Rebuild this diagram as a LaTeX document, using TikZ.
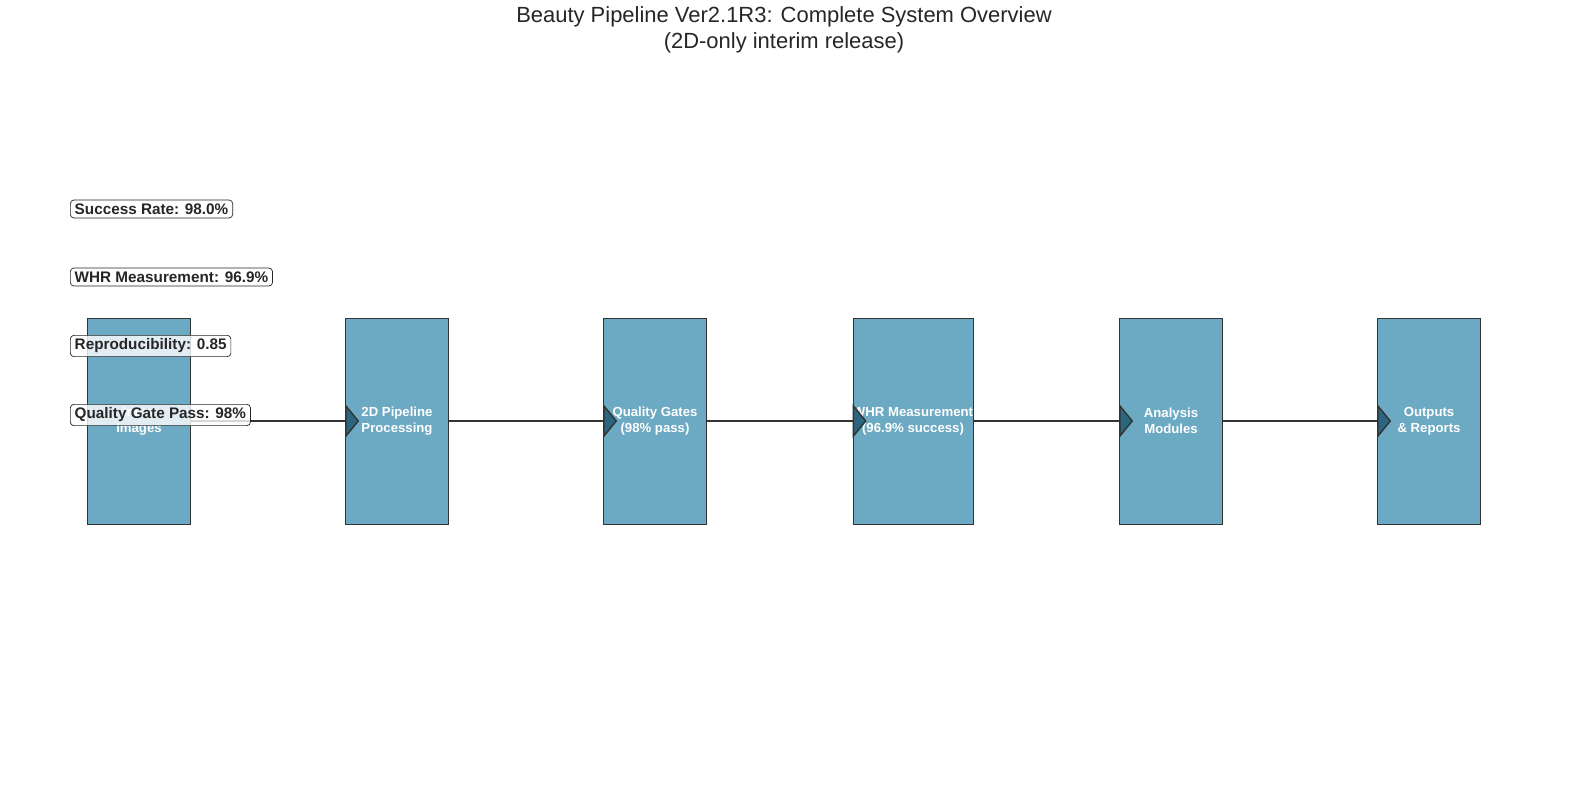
\documentclass[tikz,border=0pt]{standalone}
\usepackage{fontspec}
\setmainfont{Liberation Sans}
\usetikzlibrary{arrows.meta}
\definecolor{stageblue}{HTML}{6CA9C3}
\definecolor{tipblue}{HTML}{2A6680}
\definecolor{inkgray}{HTML}{333333}

\begin{document}
\begin{tikzpicture}[x=0.02cm, y=-0.02cm]
    \tikzstyle{stage}=[
        draw = inkgray,
        fill = stageblue,
        minimum width = 2.06cm,
        minimum height = 4.12cm,
        inner sep = 0pt,
        text = white,
        font = \fontsize{7.5}{9}\selectfont\bfseries,
        align = center
    ]
    \tikzstyle{metric}=[
        draw = black!85,
        fill = white,
        fill opacity = 0.8,
        text opacity = 1,
        rounded corners = 2pt,
        inner xsep = 2.5pt,
        inner ysep = 2pt,
        anchor = west,
        font = \fontsize{8.7}{10}\selectfont\bfseries,
        text = black!85
    ]
    \tikzstyle{flow}=[
        inkgray,
        thick,
        -{Triangle[length=0.28cm, width=0.68cm, fill=tipblue, color=black!80]}
    ]

    \useasboundingbox (0,0) rectangle (1584,784);

    \node[font=\fontsize{12.5}{15}\selectfont, text=black!85, align=center] (title) at (784,30)
        {Beauty Pipeline Ver2.1R3: Complete System Overview\\(2D-only interim release)};

    \node[stage] (input)    at (139,421)  {Input\\Images};
    \node[stage] (pipeline) at (397,421)  {2D Pipeline\\Processing};
    \node[stage] (gates)    at (655,421)  {Quality Gates\\(98\% pass)};
    \node[stage] (whr)      at (913,421)  {WHR Measurement\\(96.9\% success)};
    \node[stage] (analysis) at (1171,421) {Analysis\\Modules};
    \node[stage] (outputs)  at (1429,421) {Outputs\\\& Reports};

    \draw[flow] (input.east)    -- ([xshift=0.28cm]pipeline.west);
    \draw[flow] (pipeline.east) -- ([xshift=0.28cm]gates.west);
    \draw[flow] (gates.east)    -- ([xshift=0.28cm]whr.west);
    \draw[flow] (whr.east)      -- ([xshift=0.28cm]analysis.west);
    \draw[flow] (analysis.east) -- ([xshift=0.28cm]outputs.west);

    \node[metric] (success) at (70,209) {Success Rate: 98.0\%};
    \node[metric] (measure) at (70,277) {WHR Measurement: 96.9\%};
    \node[metric] (repro)   at (70,346) {Reproducibility: 0.85};
    \node[metric] (pass)    at (70,415) {Quality Gate Pass: 98\%};
\end{tikzpicture}
\end{document}
